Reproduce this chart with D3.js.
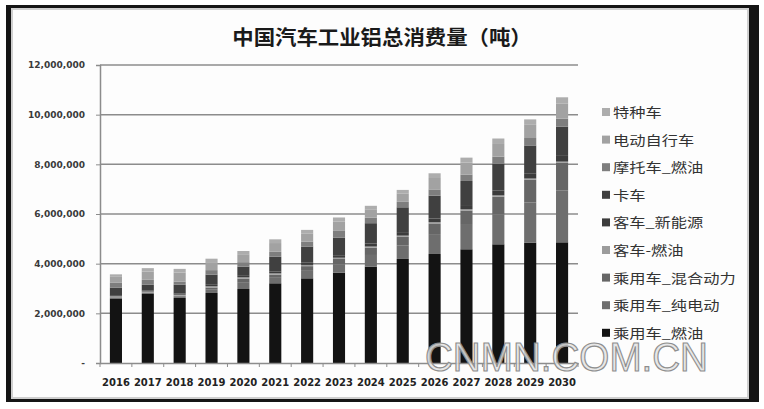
<!DOCTYPE html>
<html>
<head>
<meta charset="utf-8">
<script src="https://cdn.jsdelivr.net/npm/d3@7"></script>
<style>
  body { margin: 0; background: #fff; }
  .tick-label { font-family: "DejaVu Sans", sans-serif; font-weight: bold; }
</style>
</head>
<body>
<div id="chart"></div>
<script>
// values in tonnes
var years = ["2016", "2017", "2018", "2019", "2020", "2021", "2022", "2023", "2024", "2025", "2026", "2027", "2028", "2029", "2030"];
var seriesNames = ["乘用车_燃油", "乘用车_纯电动", "乘用车_混合动力", "客车-燃油", "客车_新能源", "卡车", "摩托车_燃油", "电动自行车", "特种车"];
var seriesColors = ["#131313", "#6e6e6e", "#666666", "#9c9c9c", "#3c3c3c", "#404040", "#7e7e7e", "#a2a2a2", "#adadad"];

var carFuel     = [2600000, 2780000, 2620000, 2820000, 2980000, 3210000, 3410000, 3640000, 3880000, 4190000, 4390000, 4580000, 4780000, 4840000, 4860000];
var carEV       = [30000, 40000, 50000, 130000, 250000, 220000, 300000, 340000, 470000, 550000, 770000, 980000, 1210000, 1620000, 2080000];
var carHybrid   = [20000, 20000, 40000, 90000, 170000, 130000, 190000, 210000, 290000, 340000, 460000, 580000, 710000, 920000, 1120000];
var busFuel     = [40000, 40000, 40000, 50000, 50000, 50000, 50000, 50000, 50000, 50000, 50000, 50000, 50000, 50000, 50000];
var busNew      = [40000, 40000, 50000, 60000, 60000, 80000, 90000, 100000, 120000, 140000, 150000, 170000, 190000, 210000, 230000];
var truck       = [300000, 230000, 350000, 410000, 370000, 590000, 650000, 710000, 820000, 1000000, 920000, 970000, 1090000, 1120000, 1180000];
var motoFuel    = [200000, 200000, 130000, 180000, 180000, 200000, 200000, 270000, 220000, 220000, 250000, 260000, 280000, 300000, 320000];
var eBike       = [240000, 330000, 360000, 320000, 320000, 350000, 330000, 380000, 340000, 340000, 460000, 480000, 510000, 530000, 600000];
var special     = [100000, 140000, 150000, 140000, 130000, 150000, 140000, 160000, 140000, 140000, 190000, 200000, 220000, 220000, 260000];

var yTicks = [0, 2000000, 4000000, 6000000, 8000000, 10000000, 12000000];

var allSeries = [carFuel, carEV, carHybrid, busFuel, busNew, truck, motoFuel, eBike, special];

var data = years.map(function(yr, i) {
  var row = { year: yr };
  seriesNames.forEach(function(name, j) {
    row[name] = allSeries[j][i];
  });
  return row;
});

var margin = { top: 65, right: 186, bottom: 46, left: 100 },
  W = 764, H = 409,
  width = W - margin.left - margin.right,
  height = H - margin.top - margin.bottom;

var svg = d3.select("#chart").append("svg")
  .attr("width", W)
  .attr("height", H);

// picture frame
svg.append("rect")
  .attr("x", 6).attr("y", 5)
  .attr("width", 753).attr("height", 397)
  .attr("fill", "#151515");
svg.append("rect")
  .attr("x", 12).attr("y", 9)
  .attr("width", 736).attr("height", 389)
  .attr("fill", "#fdfdfd")
  .attr("stroke", "#cfcfcf")
  .attr("stroke-width", 2);

var x = d3.scaleBand()
  .domain(years)
  .range([0, width])
  .paddingInner(0.62)
  .paddingOuter(0.31);

var y = d3.scaleLinear()
  .domain([0, 12000000])
  .range([height, 0]);

var color = d3.scaleOrdinal()
  .domain(seriesNames)
  .range(seriesColors);

var g = svg.append("g")
  .attr("transform", "translate(" + margin.left + "," + margin.top + ")");

// gridlines
g.append("g")
  .selectAll("line")
  .data(yTicks.filter(function(d) { return d > 0; }))
  .enter().append("line")
  .attr("x1", 0)
  .attr("x2", width)
  .attr("y1", function(d) { return y(d); })
  .attr("y2", function(d) { return y(d); })
  .attr("stroke", "#8c8c8c")
  .attr("stroke-width", 1.5);

// y axis
var yAxis = g.append("g")
  .call(d3.axisLeft(y)
    .tickValues(yTicks)
    .tickSize(4)
    .tickPadding(11)
    .tickFormat(function(d) { return d === 0 ? "-" : d3.format(",")(d); }));
yAxis.select(".domain").attr("stroke", "#8c8c8c").attr("stroke-width", 1.5);
yAxis.selectAll(".tick line").attr("stroke", "#8c8c8c");
yAxis.selectAll("text")
  .attr("class", "tick-label")
  .attr("font-size", 9)
  .attr("fill", "#3a3a3a");

// stacked bars
var stack = d3.stack().keys(seriesNames);
var layers = stack(data);

g.append("g")
  .selectAll("g")
  .data(layers)
  .enter().append("g")
  .attr("fill", function(d) { return color(d.key); })
  .selectAll("rect")
  .data(function(d) { return d; })
  .enter().append("rect")
  .attr("x", function(d) { return x(d.data.year); })
  .attr("y", function(d) { return y(d[1]); })
  .attr("height", function(d) { return y(d[0]) - y(d[1]); })
  .attr("width", x.bandwidth());

// x axis
var xAxis = g.append("g")
  .attr("transform", "translate(0," + height + ")")
  .call(d3.axisBottom(x).tickSize(0).tickPadding(16));
xAxis.select(".domain").attr("stroke", "#8c8c8c").attr("stroke-width", 1.5);
xAxis.selectAll("text")
  .attr("class", "tick-label")
  .attr("font-size", 10)
  .attr("fill", "#222");

// small tick marks between categories
g.append("g")
  .selectAll("line")
  .data(d3.range(years.length + 1))
  .enter().append("line")
  .attr("x1", function(i) { return i * x.step(); })
  .attr("x2", function(i) { return i * x.step(); })
  .attr("y1", height)
  .attr("y2", height + 4)
  .attr("stroke", "#8c8c8c");

// legend, top item = top of the stack
var legendItems = seriesNames.slice().reverse();
var legend = svg.selectAll(".legend")
  .data(legendItems)
  .enter().append("g")
  .attr("class", "legend")
  .attr("transform", function(d, i) {
    return "translate(602," + (112 + i * 27.6) + ")";
  });

legend.append("rect")
  .attr("x", 0)
  .attr("y", -4)
  .attr("width", 8)
  .attr("height", 8)
  .attr("fill", function(d) { return color(d); });

legend.append("text")
  .text(function(d) { return d; })
  .attr("transform", "translate(11,5) scale(1.25,1)")
  .attr("font-family", "'Noto Sans CJK SC', sans-serif")
  .attr("font-size", 13)
  .attr("fill", "#333");

// title
svg.append("text")
  .text("中国汽车工业铝总消费量（吨）")
  .attr("transform", "translate(382,45) scale(1.07,1)")
  .attr("text-anchor", "middle")
  .attr("font-family", "'Noto Sans CJK SC', sans-serif")
  .attr("font-weight", "bold")
  .attr("font-size", 20)
  .attr("fill", "#1a1a1a");

// watermark
svg.append("text")
  .text("CNMN.COM.CN")
  .attr("x", 425)
  .attr("y", 371)
  .attr("textLength", 283)
  .attr("lengthAdjust", "spacingAndGlyphs")
  .attr("font-family", "'Liberation Sans', Arial, sans-serif")
  .attr("font-size", 41)
  .attr("fill", "#e4e4e4")
  .attr("fill-opacity", 0.85)
  .attr("stroke", "#8e8e8e")
  .attr("stroke-width", 1.2);
</script>
</body>
</html>
